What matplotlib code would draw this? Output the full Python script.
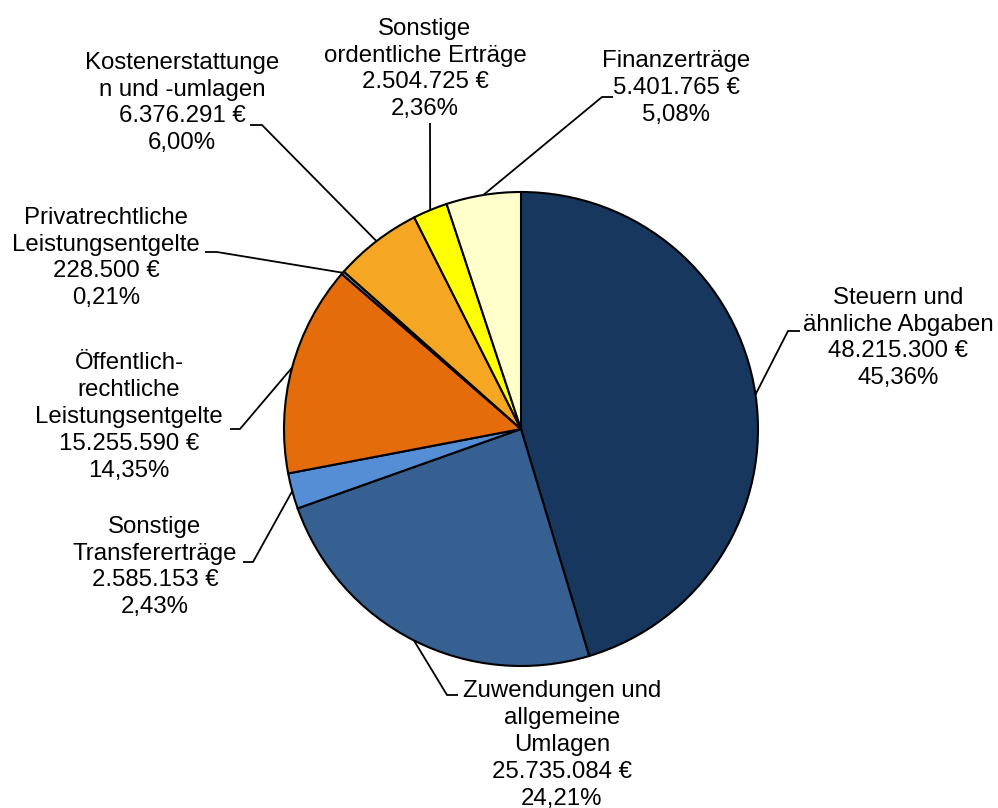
import matplotlib
matplotlib.use("Agg")
import matplotlib.pyplot as plt
import numpy as np

categories = [
    "Steuern und\nähnliche Abgaben",
    "Zuwendungen und\nallgemeine\nUmlagen",
    "Sonstige\nTransfererträge",
    "Öffentlich-\nrechtliche\nLeistungsentgelte",
    "Privatrechtliche\nLeistungsentgelte",
    "Kostenerstattunge\nn und -umlagen",
    "Sonstige\nordentliche Erträge",
    "Finanzerträge",
]
values = [48215300, 25735084, 2585153, 15255590, 228500, 6376291, 2504725, 5401765]
amount_labels = ["48.215.300 €", "25.735.084 €", "2.585.153 €", "15.255.590 €",
                 "228.500 €", "6.376.291 €", "2.504.725 €", "5.401.765 €"]
percent_labels = ["45,36%", "24,21%", "2,43%", "14,35%", "0,21%", "6,00%", "2,36%", "5,08%"]

colors = ["#17375E", "#376092", "#558ED5", "#E46C0A", "#8497B0", "#F5A623", "#FFFF00", "#FFFFCC"]

W, H = 998, 808
fig = plt.figure(figsize=(W / 100, H / 100), dpi=100)
ax = fig.add_axes([0, 0, 1, 1])
plt.rcParams['font.family'] = ['Liberation Sans', 'DejaVu Sans']

cx, cy, R = 521, H - 429, 237
wedges, _ = ax.pie(values, colors=colors, startangle=90, counterclock=False,
                   center=(cx, cy), radius=R, frame=True,
                   wedgeprops=dict(edgecolor="black", linewidth=1.5))
ax.set_xlim(0, W)
ax.set_ylim(0, H)
ax.set_aspect("equal")
ax.axis("off")

# label layout (pixel coordinates from top): text center, leader elbow, horizontal end
text_pos = [(898, 338), (562, 745), (155, 567), (129, 417), (106, 258), (182, 103), (425, 69), (676, 88)]
elbows = [((788, 331), (800, 331)),
          ((447, 695), (458, 695)),
          ((253, 562), (243, 562)),
          ((240, 429), (230, 429)),
          ((217, 252), (205, 252)),
          ((262, 125), (250, 125)),
          ((430, 123), None),
          ((602, 97), (613, 97))]

for w, cat, amt, pct, tp, (elb, hend) in zip(wedges, categories, amount_labels, percent_labels, text_pos, elbows):
    mid = np.deg2rad((w.theta1 + w.theta2) / 2)
    ex, ey = cx + R * np.cos(mid), cy + R * np.sin(mid)
    xs = [ex, elb[0]]
    ys = [ey, H - elb[1]]
    if hend is not None:
        xs.append(hend[0])
        ys.append(H - hend[1])
    ax.plot(xs, ys, color="black", linewidth=1.3, solid_capstyle="butt", zorder=1)
    ax.text(tp[0], H - tp[1], f"{cat}\n{amt}\n{pct}", ha="center", va="center",
            multialignment="center", fontsize=17.3, linespacing=1.29, color="black")

fig.savefig("out.png", dpi=100)
